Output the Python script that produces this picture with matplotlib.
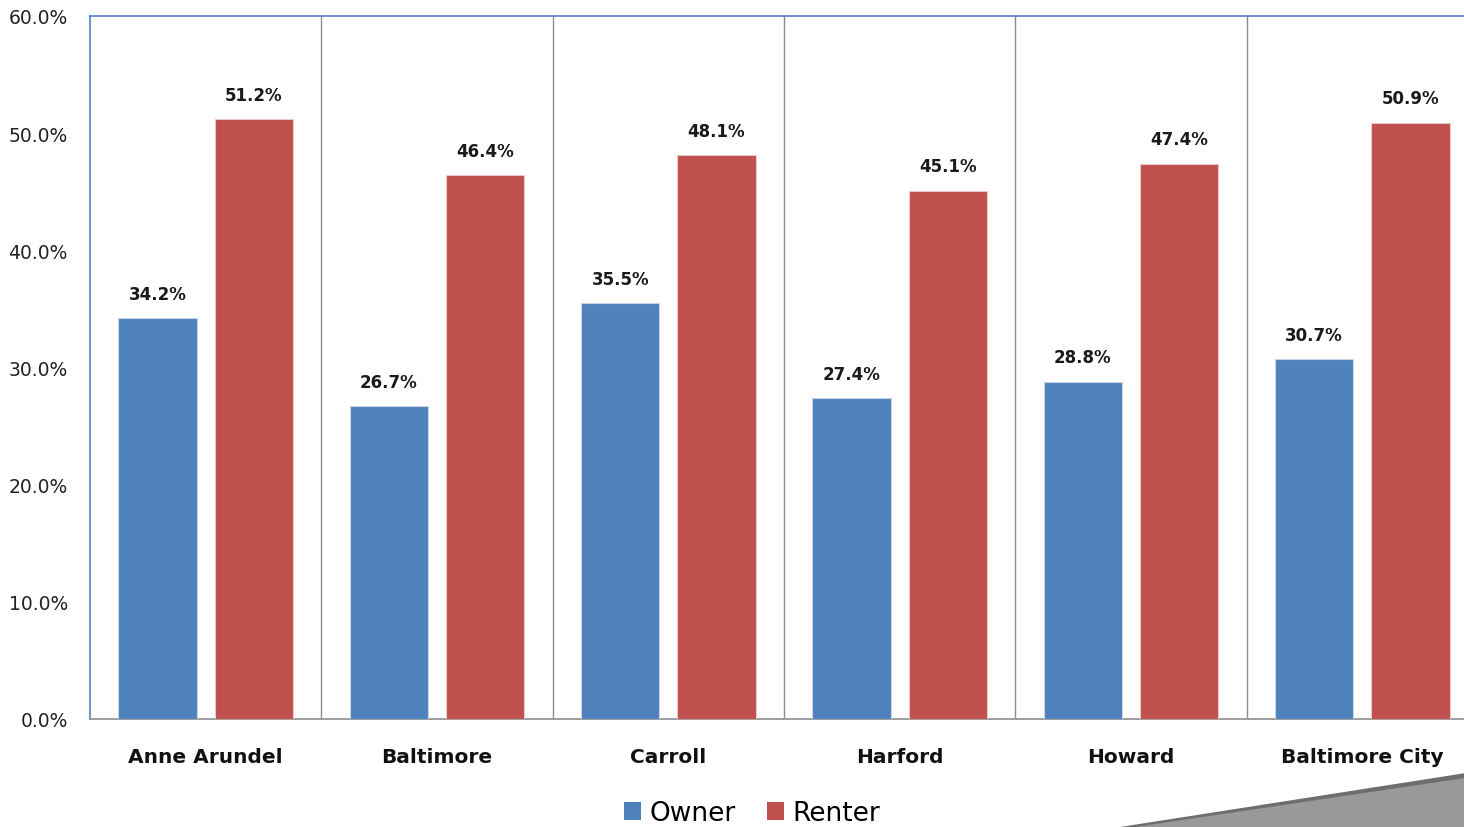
import matplotlib
matplotlib.use("Agg")
import matplotlib.pyplot as plt
import numpy as np
from matplotlib.patches import Polygon, Patch

# Data
counties = ["Anne Arundel", "Baltimore", "Carroll", "Harford", "Howard", "Baltimore City"]
owner = [34.2, 26.7, 35.5, 27.4, 28.8, 30.7]
renter = [51.2, 46.4, 48.1, 45.1, 47.4, 50.9]
yticks = [0, 10, 20, 30, 40, 50, 60]

blue = "#4F81BD"
red = "#C0504D"
W, H = 1464, 828

fig = plt.figure(figsize=(W / 100, H / 100), dpi=100)
ax = fig.add_axes([90 / W, (H - 720) / H, 1388 / W, 703 / H])

x = np.arange(len(counties))
bw = 0.338
off = 0.208
b1 = ax.bar(x - off, owner, bw, color=blue, edgecolor="#C9D7EA", linewidth=0.8, zorder=3)
b2 = ax.bar(x + off, renter, bw, color=red, edgecolor="#EBC9C8", linewidth=0.8, zorder=3)

for bars, vals in ((b1, owner), (b2, renter)):
    for rect, v in zip(bars, vals):
        ax.annotate(f"{v:.1f}%", (rect.get_x() + rect.get_width() / 2, v),
                    xytext=(0, 11), textcoords="offset points",
                    ha="center", va="bottom", fontsize=12, fontweight="bold",
                    color="#1a1a1a")

# category separators
for b in x[:-1] + 0.5:
    ax.axvline(b, color="#8C8C8C", linewidth=1.0, zorder=1)

ax.set_xlim(-0.5, len(counties) - 0.5)
ax.set_ylim(0, 60)
ax.set_yticks(yticks)
ax.set_yticklabels([f"{t:.1f}%" for t in yticks], fontsize=13.5, color="#222222")
ax.set_xticks(x)
ax.set_xticklabels(counties, fontsize=14.5, fontweight="bold", color="#111111")
ax.tick_params(axis="x", length=0, pad=20)
ax.tick_params(axis="y", length=0, pad=16)

for s in ("left", "top"):
    ax.spines[s].set_color(blue)
    ax.spines[s].set_linewidth(1.2)
ax.spines["bottom"].set_color("#8C8C8C")
ax.spines["bottom"].set_linewidth(1.2)
ax.spines["right"].set_visible(False)

handles = [Patch(facecolor=blue, label="Owner"), Patch(facecolor=red, label="Renter")]
fig.legend(handles=handles, loc="center", bbox_to_anchor=(752 / W, 1 - 814 / H),
           ncol=2, frameon=False, fontsize=19, handlelength=0.65, handleheight=0.65,
           handletextpad=0.3, columnspacing=1.2, borderpad=0)

# decorative grey wedge, bottom right
wedge_dark = Polygon([(1120 / W, 0), (1 + 0.01, 56 / H), (1 + 0.01, 0)],
                     closed=True, transform=fig.transFigure, facecolor="#6E6E6E",
                     edgecolor="none", zorder=0)
wedge = Polygon([(1135 / W, 0), (1 + 0.01, 51 / H), (1 + 0.01, 0)],
                closed=True, transform=fig.transFigure, facecolor="#999999",
                edgecolor="none", zorder=0)
fig.patches.extend([wedge_dark, wedge])

fig.savefig("out.png", dpi=100)
